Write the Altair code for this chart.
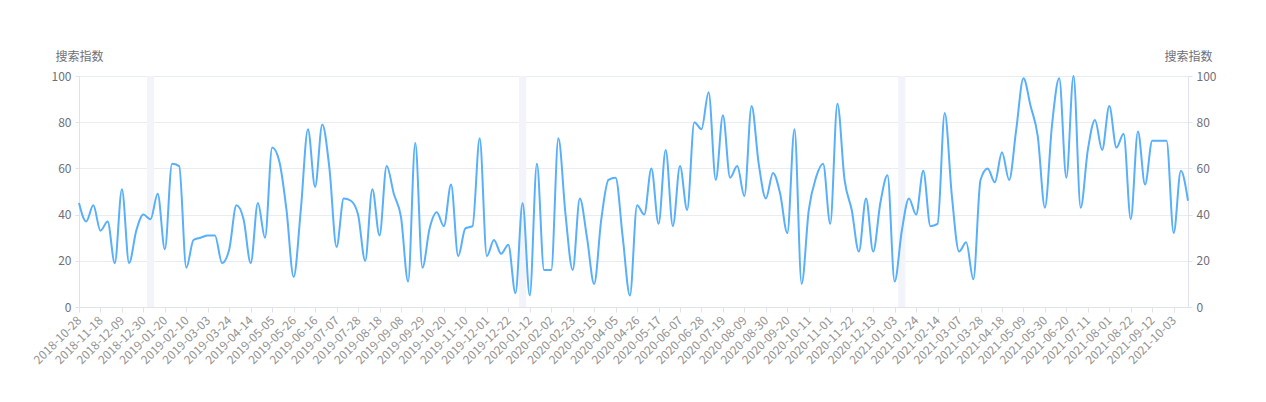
import altair as alt
import pandas as pd

# weekly search index, one value per week starting 2018-10-28
values = [
    45, 37, 44, 33, 37, 19, 51, 19, 33, 40,
    38, 49, 25, 62, 61, 17, 29, 30, 31, 31,
    19, 25, 44, 38, 19, 45, 30, 69, 63, 42,
    13, 42, 77, 52, 79, 60, 26, 47, 46, 40,
    20, 51, 31, 61, 49, 39, 11, 71, 17, 34,
    41, 35, 53, 22, 34, 35, 73, 22, 29, 23,
    27, 6, 45, 5, 62, 16, 16, 73, 40, 16,
    47, 30, 10, 38, 55, 56, 30, 5, 44, 40,
    60, 36, 68, 35, 61, 42, 80, 77, 93, 55,
    83, 56, 61, 48, 87, 62, 47, 58, 49, 32,
    77, 10, 42, 56, 62, 36, 88, 55, 42, 24,
    47, 24, 45, 57, 11, 33, 47, 40, 59, 35,
    36, 84, 48, 24, 28, 12, 55, 60, 54, 67,
    55, 77, 99, 87, 74, 43, 79, 99, 56, 100,
    43, 68, 81, 68, 87, 69, 75, 38, 76, 53,
    72, 72, 72, 32, 59, 46,
]
start_date = "2018-10-28"
end_date = "2021-10-17"

tick_labels = [
    "2018-10-28", "2018-11-18", "2018-12-09", "2018-12-30", "2019-01-20",
    "2019-02-10", "2019-03-03", "2019-03-24", "2019-04-14", "2019-05-05",
    "2019-05-26", "2019-06-16", "2019-07-07", "2019-07-28", "2019-08-18",
    "2019-09-08", "2019-09-29", "2019-10-20", "2019-11-10", "2019-12-01",
    "2019-12-22", "2020-01-12", "2020-02-02", "2020-02-23", "2020-03-15",
    "2020-04-05", "2020-04-26", "2020-05-17", "2020-06-07", "2020-06-28",
    "2020-07-19", "2020-08-09", "2020-08-30", "2020-09-20", "2020-10-11",
    "2020-11-01", "2020-11-22", "2020-12-13", "2021-01-03", "2021-01-24",
    "2021-02-14", "2021-03-07", "2021-03-28", "2021-04-18", "2021-05-09",
    "2021-05-30", "2021-06-20", "2021-07-11", "2021-08-01", "2021-08-22",
    "2021-09-12", "2021-10-03",
]
band_weeks = ["2019-01-06", "2020-01-05", "2021-01-10"]

y_title = "搜索指数"
y_ticks = [0, 20, 40, 60, 80, 100]

FONT = "Noto Sans CJK SC"
LINE_COLOR = "#58AFFB"
GRID = "#E9ECF3"


def dt(s):
    y, m, d = (int(p) for p in s.split("-"))
    return alt.DateTime(year=y, month=m, date=d, utc=True)


dates = pd.date_range(start_date, periods=len(values), freq="7D")
df = pd.DataFrame({
    "date": dates.strftime("%Y-%m-%dT%H:%M:%SZ"),
    "value": values,
})

bc = pd.to_datetime(band_weeks)
bands = pd.DataFrame({
    "start": (bc - pd.Timedelta(hours=84)).strftime("%Y-%m-%dT%H:%M:%SZ"),
    "end": (bc + pd.Timedelta(hours=84)).strftime("%Y-%m-%dT%H:%M:%SZ"),
})

xscale = alt.Scale(type="utc", domain=[dt(start_date), dt(end_date)], nice=False)
yscale = alt.Scale(domain=[0, 100], nice=False)

x_axis = alt.Axis(
    values=[dt(s) for s in tick_labels],
    labelExpr="utcFormat(datum.value, '%Y-%m-%d')",
    labelAngle=-45,
    labelAlign="right",
    labelBaseline="middle",
    labelPadding=6,
    labelFontSize=12,
    labelColor="#929292",
    labelFont=FONT,
    labelOverlap=False,
    tickSize=5,
    tickColor="#E0E3EA",
    domainColor="#E0E3EA",
    grid=False,
    title=None,
)

band_layer = alt.Chart(bands).mark_rect(color="#F2F4FA").encode(
    x=alt.X("start:T", scale=xscale, axis=x_axis),
    x2="end:T",
    y=alt.datum(0, scale=yscale, axis=None),
    y2=alt.datum(100),
)


def y_axis(orient, grid):
    return alt.Axis(
        orient=orient,
        values=y_ticks,
        title=y_title,
        titleAngle=0,
        titleX=0,
        titleY=-20,
        titleAlign="center",
        titleBaseline="middle",
        titleFont=FONT,
        titleFontSize=12,
        titleFontWeight="normal",
        titleColor="#6E7079",
        labelFont=FONT,
        labelFontSize=12,
        labelColor="#6E7079",
        labelPadding=4,
        tickSize=4,
        tickColor="#E0E3EA",
        domainColor="#E0E3EA",
        grid=grid,
        gridColor=GRID,
    )


line_left = alt.Chart(df).mark_line(
    interpolate="monotone", color=LINE_COLOR, strokeWidth=2
).encode(
    x=alt.X("date:T", scale=xscale, axis=x_axis),
    y=alt.Y("value:Q", scale=yscale, axis=y_axis("left", True)),
)

line_right = alt.Chart(df).mark_line(
    interpolate="monotone", color=LINE_COLOR, strokeWidth=2, opacity=0
).encode(
    x=alt.X("date:T", scale=xscale, axis=x_axis),
    y=alt.Y("value:Q", scale=yscale, axis=y_axis("right", False)),
)

chart = (
    alt.layer(band_layer, line_left, line_right)
    .resolve_scale(y="independent")
    .properties(
        width=1109,
        height=231,
        autosize=alt.AutoSizeParams(type="none"),
        padding={"left": 71, "top": 68, "right": 60, "bottom": 80},
        background="white",
    )
    .configure_view(stroke=None)
)

chart.save("out.html", embed_options={"renderer": "svg", "actions": False})
